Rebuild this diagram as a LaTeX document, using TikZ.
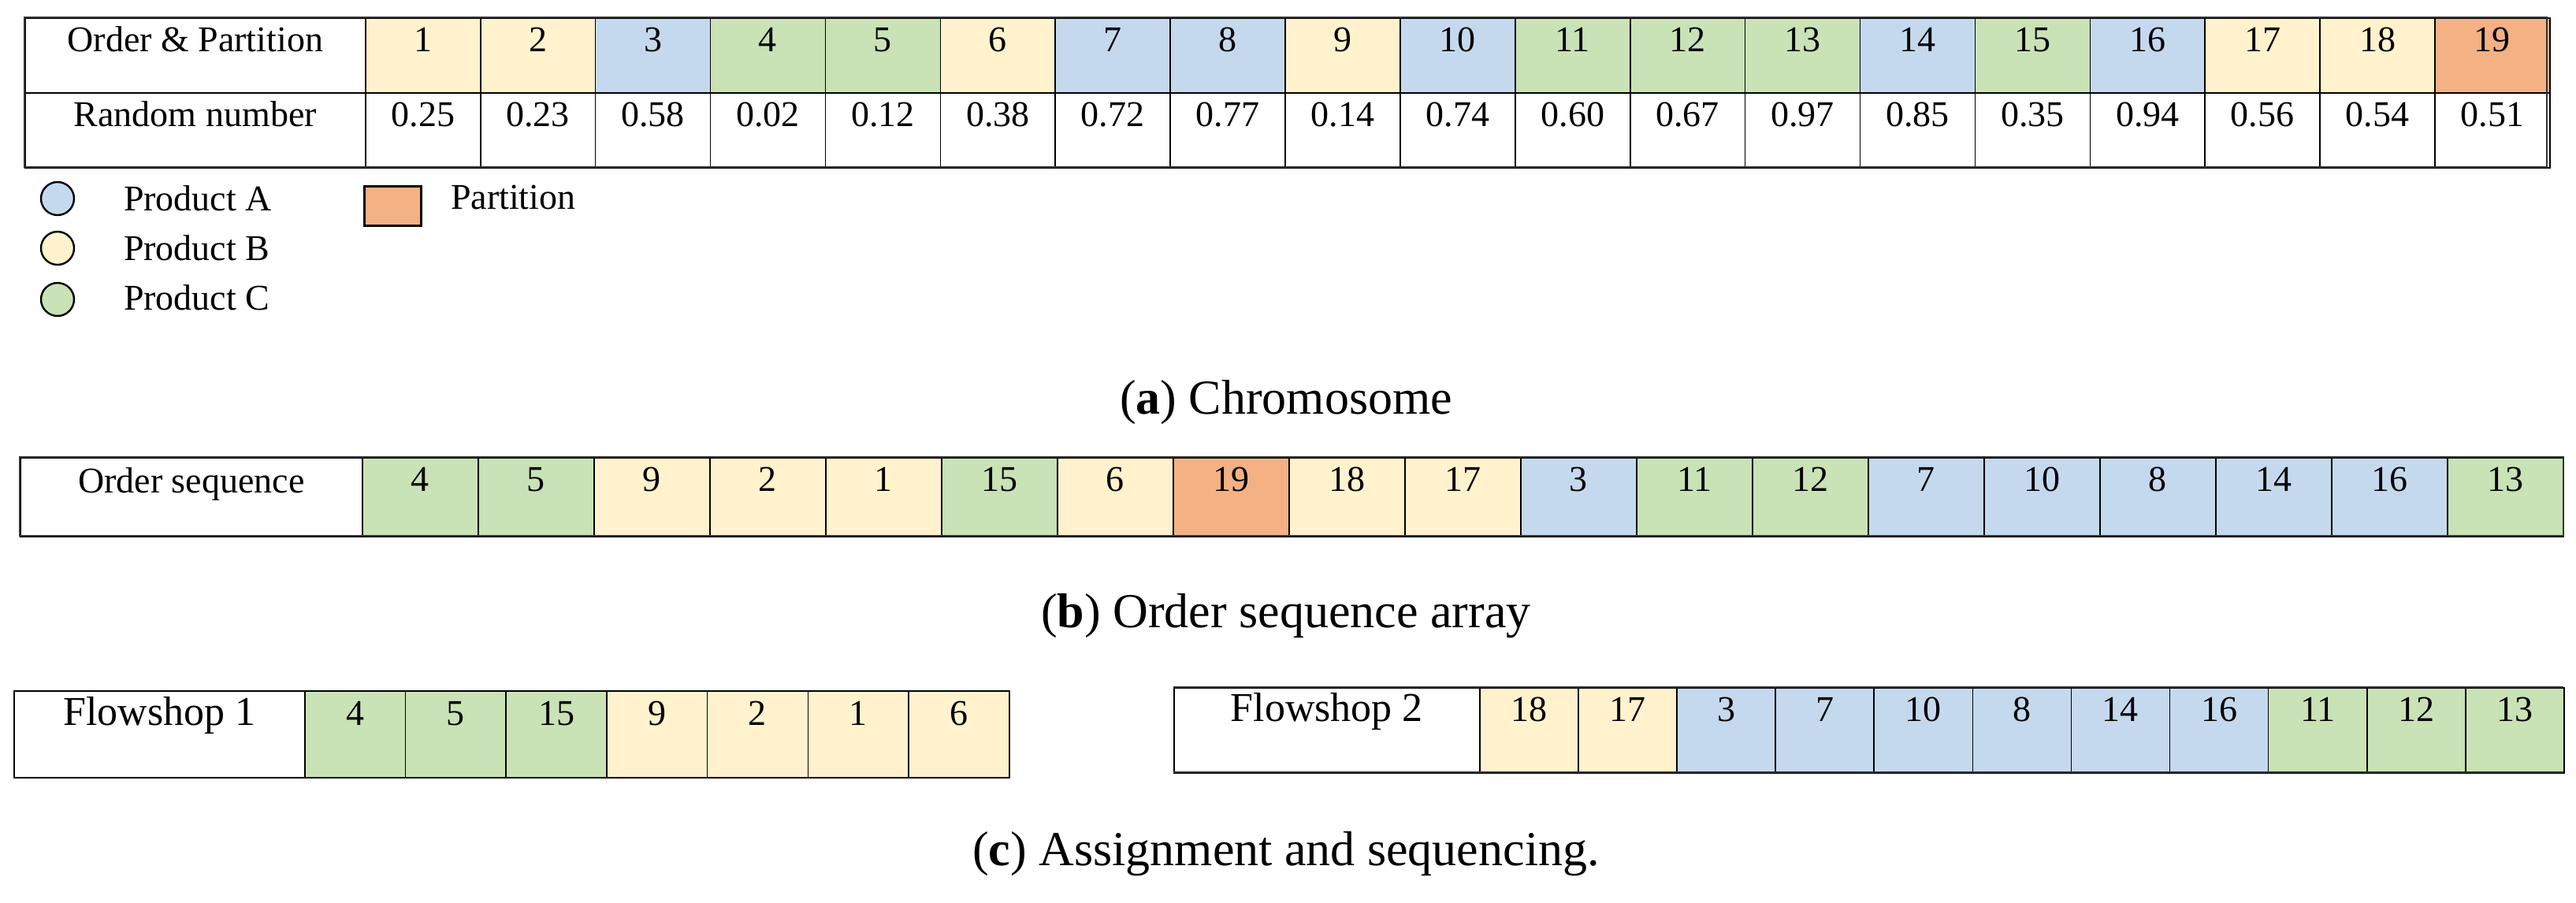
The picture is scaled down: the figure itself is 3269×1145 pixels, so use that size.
\documentclass[tikz,border=0pt]{standalone}
\usepackage{fontspec}
\setmainfont{Liberation Serif}
\begin{document}
\definecolor{cA}{HTML}{C5D9EE}
\definecolor{cB}{HTML}{FFF2CC}
\definecolor{cC}{HTML}{C9E2B6}
\definecolor{cP}{HTML}{F4B183}
\definecolor{cW}{HTML}{FFFFFF}
\begin{tikzpicture}[x=0.5pt,y=-0.5pt,
  cell/.style={draw=black,line width=0.8pt,anchor=north west,inner sep=0pt,font=\fontsize{23}{26}\selectfont,text height=17pt,text depth=22pt},
  captext/.style={font=\fontsize{31}{36}\selectfont},
  dot/.style={draw=black,line width=1.2pt,circle,minimum size=21pt,inner sep=0pt},
  leg/.style={font=\fontsize{23}{26}\selectfont,anchor=west}]
\useasboundingbox (0,0) rectangle (3269,1145);
% (a)
\node[cell,fill=cW,minimum width=216pt,minimum height=47.5pt] (ha) at (31,22) {Order \& Partition};
\node[cell,fill=cW,minimum width=216pt,minimum height=47.5pt] (hr) at (31,117) {Random number};
\foreach \n/\c/\r [count=\i from 0] in {1/cB/0.25,2/cB/0.23,3/cA/0.58,4/cC/0.02,5/cC/0.12,6/cB/0.38,7/cA/0.72,8/cA/0.77,9/cB/0.14,10/cA/0.74,11/cC/0.60,12/cC/0.67,13/cC/0.97,14/cA/0.85,15/cC/0.35,16/cA/0.94,17/cB/0.56,18/cB/0.54,19/cP/0.51}{
  \node[cell,fill=\c,minimum width=72.95pt,minimum height=47.5pt] (a\n) at ({463+145.9*\i},22) {\n};
  \node[cell,fill=cW,minimum width=72.95pt,minimum height=47.5pt] (r\n) at ({463+145.9*\i},117) {\r};
}
\draw[line width=1.3pt,black!80] (31,22) rectangle (3232,212);
% legend
\node[dot,fill=cA] (lA) at (73,252) {};
\node[dot,fill=cB] (lB) at (73,315) {};
\node[dot,fill=cC] (lC) at (73,380) {};
\node[leg] (tA) at (150,252) {Product A};
\node[leg] (tB) at (150,315) {Product B};
\node[leg] (tC) at (150,378) {Product C};
\node[draw=black,line width=1.5pt,fill=cP,minimum width=36pt,minimum height=25pt,inner sep=0pt] (lP) at (498,261) {};
\node[leg] (tP) at (565,250) {Partition};
\node[captext] (capa) at (1632,511) {(\textbf{a}) Chromosome};
% (b)
\node[cell,fill=cW,minimum width=217pt,minimum height=50pt] (hb) at (25,580) {Order sequence};
\foreach \n/\c [count=\i from 0] in {4/cC,5/cC,9/cB,2/cB,1/cB,15/cC,6/cB,19/cP,18/cB,17/cB,3/cA,11/cC,12/cC,7/cA,10/cA,8/cA,14/cA,16/cA,13/cC}{
  \node[cell,fill=\c,minimum width=73.5pt,minimum height=50pt,text depth=24pt] (b\i) at ({459+147*\i},580) {\n};
}
\draw[line width=1.1pt,black!80] (25,580) rectangle (3253,680);
\node[captext] (capb) at (1632,782) {(\textbf{b}) Order sequence array};
% (c)
\node[cell,fill=cW,minimum width=184.5pt,minimum height=55pt,font=\fontsize{26}{30}\selectfont,text depth=28pt] (f1) at (17,876) {Flowshop 1};
\foreach \n/\c [count=\i from 0] in {4/cC,5/cC,15/cC,9/cB,2/cB,1/cB,6/cB}{
  \node[cell,fill=\c,minimum width=63.85pt,minimum height=55pt,text depth=28pt] (c\i) at ({386+127.7*\i},876) {\n};
}
\node[cell,fill=cW,minimum width=194pt,minimum height=54pt,font=\fontsize{26}{30}\selectfont,text depth=28pt] (f2) at (1489,872) {Flowshop 2};
\foreach \n/\c [count=\i from 0] in {18/cB,17/cB,3/cA,7/cA,10/cA,8/cA,14/cA,16/cA,11/cC,12/cC,13/cC}{
  \node[cell,fill=\c,minimum width=62.55pt,minimum height=54pt,text depth=28pt] (d\i) at ({1877+125.1*\i},872) {\n};
}
\draw[line width=1.3pt,black!80] (1489,872) -- (3253,872) (1489,980) -- (3253,980);
\node[captext] (capc) at (1632,1084) {(\textbf{c}) Assignment and sequencing.};
\end{tikzpicture}
\end{document}
